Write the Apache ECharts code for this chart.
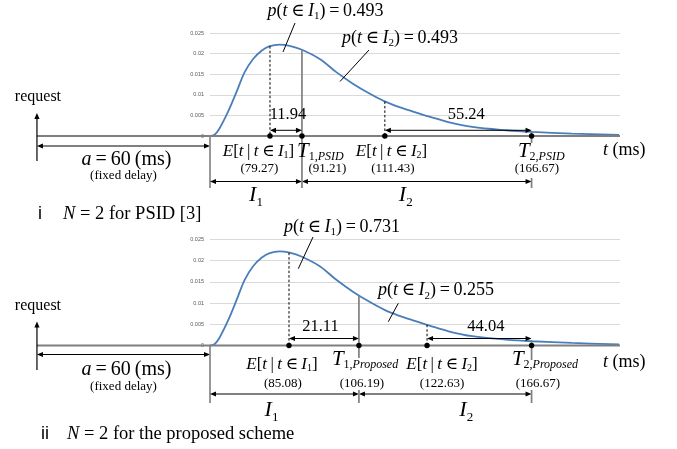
<!DOCTYPE html>
<html><head><meta charset="utf-8">
<script src="https://cdn.jsdelivr.net/npm/echarts@6/dist/echarts.min.js"></script>
<style>html,body{margin:0;padding:0;background:#fff}#c{width:677px;height:449px}</style>
</head><body><div id="c"></div>
<script>
// ---- data ----
// delay density curve: t (ms) and p(t)
const curveT = [60, 61.5, 63.2, 66.0, 68.8, 71.5, 74.3, 77.1, 79.8, 83.1, 86.4, 90.3, 96.4, 101.9, 107.4, 112.9, 117.9, 122.8, 126.2, 132.8, 139.4, 147.0, 158.2, 166.9, 180.1, 195.7];
const curveP = [0, 0.0003, 0.0019, 0.0059, 0.0107, 0.0155, 0.0187, 0.0207, 0.0218, 0.0222, 0.0219, 0.0210, 0.0187, 0.0155, 0.0127, 0.0103, 0.0084, 0.0070, 0.0062, 0.0047, 0.0033, 0.0022, 0.0014, 0.0010, 0.0006, 0.00025];
const yTicks = [0, 0.005, 0.01, 0.015, 0.02, 0.025];
const requestT = 2.6, delayT = 60, axisEndT = 196;
// markers: E[t|t in I1], T1, E[t|t in I2], T2
const topValues = ['79.27', '91.21', '111.43', '166.67'];
const topPos = [79.9, 90.5, 118.0, 166.67];          // where the (schematic) diagram draws them
const topCurveAt = [0.0218, 0.0210, 0.0084, 0.0010];
const topGaps = ['11.94', '55.24'];
const topProbs = ['0.493', '0.493'];
const topSub = 'PSID';
const botValues = ['85.08', '106.19', '122.63', '166.67'];
const botPos = [86.2, 109.4, 132.0, 166.67];
const botCurveAt = [0.0219, 0.0118, 0.0049, 0.0012];
const botGaps = ['21.11', '44.04'];
const botProbs = ['0.731', '0.255'];
const botSub = 'Proposed';
const captionNums = ['i', 'ii'];
const captions = ['N = 2 for PSID [3]', 'N = 2 for the proposed scheme'];

const SERIF = '"Liberation Serif","DejaVu Serif",serif';
const AXIS = '#7f7f7f';

function line(x1, y1, x2, y2, stroke, w, dash) {
  return {type: 'line', silent: true, shape: {x1, y1, x2, y2}, style: {stroke, lineWidth: w, lineDash: dash || null}};
}
function head(x, y, dir) {
  const L = 6, W = 2.6;
  let p;
  if (dir === 'r') p = [[x, y], [x - L, y - W], [x - L, y + W]];
  else if (dir === 'l') p = [[x, y], [x + L, y - W], [x + L, y + W]];
  else p = [[x, y], [x - W, y + L], [x + W, y + L]];
  return {type: 'polygon', silent: true, shape: {points: p}, style: {fill: '#000'}};
}
function darrow(x1, x2, y) {
  return [line(x1 + 3, y, x2 - 3, y, '#000', 1), head(x1, y, 'l'), head(x2, y, 'r')];
}
// rich text positioned by baseline
function rt(x, base, str, S, s, d, align) {
  s = s || S * 0.6; d = d || 0;
  const P = Math.max(0, 0.84 * S + d - 0.84 * s);
  const tok = (o) => Object.assign({fontFamily: SERIF, fill: '#000', verticalAlign: 'top'}, o);
  return {type: 'text', silent: true, style: {
    x, y: base - 0.84 * S, text: str, align: align || 'center', verticalAlign: 'top',
    fontFamily: SERIF, fontSize: S, fill: '#000',
    rich: {
      n: tok({fontSize: S, lineHeight: S}),
      i: tok({fontSize: S, lineHeight: S, fontStyle: 'italic'}),
      s: tok({fontSize: s, lineHeight: s, padding: [P, 0, 0, 0]}),
      si: tok({fontSize: s, lineHeight: s, fontStyle: 'italic', padding: [P, 0, 0, 0]})
    }
  }};
}

const panels = [
  {values: topValues, pos: topPos, curveAt: topCurveAt, gaps: topGaps, probs: topProbs, sub: topSub,
   capNum: captionNums[0], cap: captions[0],
   L: {reqBase: -34, reqTip: -23, reqBot: 25, aY: 10, aBase: 31, fdBase: 44, vBot: 52, iY: 45.5, iBase: 67,
       iDx: [0, -11], capBase: 84, capNumX: 40, capX: 63, labBase: 21.5, tBase: 23, valBase: 37,
       dY: -5.7, dBase: -16, gapDx: [2, 8], labDx: [-11.5, 6.7], tDx: [-5, -13.7], valDx: [-10.5, 25.5, 8, 5.3],
       tmsBase: 20, probPos: [[115.5, -119], [190, -91.7]], leaders: [[85, -113, 73, -84], [159, -86, 130, -54.5]],
       tSeg: [[['c', 52]], [['c', 7], [42, 52]]]}},
  {values: botValues, pos: botPos, curveAt: botCurveAt, gaps: botGaps, probs: botProbs, sub: botSub,
   capNum: captionNums[1], cap: captions[1],
   L: {reqBase: -34.5, reqTip: -24, reqBot: 24.5, aY: 9, aBase: 31, fdBase: 45.5, vBot: 57.5, iY: 48.5, iBase: 72.5,
       iDx: [-13, 21], capBase: 94.5, capNumX: 45, capX: 67, labBase: 24.5, tBase: 21.5, valBase: 42,
       dY: -7, dBase: -13.5, gapDx: [-3.5, 6.5], labDx: [-7, 15], tDx: [-27, -19.7], valDx: [-6, 3, 15, 6.3],
       tmsBase: 22.5, probPos: [[132, -112.5], [226, -48.8]], leaders: [[103, -108.5, 88.3, -76.8], [188.3, -42.2, 178.3, -23.8]],
       tSeg: [[['c', 12.5], [44.5, 57.5]], [['c', 14.5], [44.5, 57.5]]]}}
];

function makeRender(pn) {
  return function (params, api) {
    const L = pn.L;
    const X = t => api.coord([t, 0])[0];
    const O = api.coord([delayT, 0]);
    const X0 = O[0], Y0 = O[1];
    const V = v => api.coord([delayT, v])[1];
    const ch = [];
    const Xr = X(requestT);
    const xs = pn.pos.map(X);
    // axis line
    ch.push(line(Xr, Y0, X(axisEndT), Y0, AXIS, 2.2));
    // request arrow
    ch.push(line(Xr, Y0 + L.reqBot, Xr, Y0 + L.reqTip + 5, '#000', 1.2), head(Xr, Y0 + L.reqTip, 'u'));
    ch.push(rt(Xr + 1, Y0 + L.reqBase, '{n|request}', 16));
    // fixed delay
    ch.push(...darrow(Xr, X0, Y0 + L.aY));
    ch.push(rt((Xr + X0) / 2 + 3, Y0 + L.aBase, '{i|a}{n|\u2009=\u200960\u2009(ms)}', 20));
    ch.push(rt((Xr + X0) / 2, Y0 + L.fdBase, '{n|(fixed delay)}', 13));
    ch.push(line(X0, Y0, X0, Y0 + L.vBot, AXIS, 1.6));
    // intervals
    ch.push(...darrow(X0, xs[1], Y0 + L.iY), ...darrow(xs[1], xs[3], Y0 + L.iY));
    ch.push(rt((X0 + xs[1]) / 2 + L.iDx[0], Y0 + L.iBase, '{i|I}{s|1}', 22, 13, 4));
    ch.push(rt((xs[1] + xs[3]) / 2 + L.iDx[1], Y0 + L.iBase, '{i|I}{s|2}', 22, 13, 4));
    // T verticals
    [1, 3].forEach((k, j) => {
      L.tSeg[j].forEach(seg => {
        const ya = seg[0] === 'c' ? V(pn.curveAt[k]) : Y0 + seg[0];
        ch.push(line(xs[k], ya, xs[k], Y0 + seg[1], AXIS, 1.7));
      });
    });
    // dashed E lines
    [0, 2].forEach(k => ch.push(line(xs[k], V(pn.curveAt[k]), xs[k], Y0, '#000', 1, [2.5, 2])));
    // dots
    xs.forEach(x => ch.push({type: 'circle', silent: true, shape: {cx: x, cy: Y0, r: 2.7}, style: {fill: '#000'}}));
    // gap arrows
    [[0, 1], [2, 3]].forEach((pr, j) => {
      ch.push(...darrow(xs[pr[0]], xs[pr[1]], Y0 + L.dY));
      ch.push(rt((xs[pr[0]] + xs[pr[1]]) / 2 + L.gapDx[j], Y0 + L.dBase, '{n|' + pn.gaps[j] + '}', 16.5));
    });
    // labels below axis
    ['1', '2'].forEach((n, j) => {
      const k = j * 2;
      ch.push(rt(xs[k] + L.labDx[j], Y0 + L.labBase,
        '{i|E}{n|[}{i|t}{n|\u2009|\u2009}{i|t}{n|\u2009\u2208\u2009}{i|I}{s|' + n + '}{n|]}', 17, 10, 1.5));
      ch.push(rt(xs[k + 1] + L.tDx[j], Y0 + L.tBase, '{i|T}{s|' + n + ',}{si|' + pn.sub + '}', 21, 12, 1.5, 'left'));
    });
    pn.values.forEach((v, k) => ch.push(rt(xs[k] + L.valDx[k], Y0 + L.valBase, '{n|(' + v + ')}', 13)));
    ch.push(rt(603, Y0 + L.tmsBase, '{i|t}{n| (ms)}', 18, 0, 0, 'left'));
    // probability annotations
    ['1', '2'].forEach((n, j) => {
      const pp = L.probPos[j], ld = L.leaders[j];
      ch.push(rt(X0 + pp[0], Y0 + pp[1],
        '{i|p}{n|(}{i|t}{n|\u2009\u2208\u2009}{i|I}{s|' + n + '}{n|)\u2009=\u2009' + pn.probs[j] + '}', 18, 11, 3));
      ch.push(line(X0 + ld[0], Y0 + ld[1], X0 + ld[2], Y0 + ld[3], '#000', 1));
    });
    // caption
    ch.push({type: 'text', silent: true, style: {x: L.capNumX, y: Y0 + L.capBase - 0.84 * 18, text: pn.capNum,
      align: 'center', verticalAlign: 'top', fontFamily: '"Liberation Sans",sans-serif', fontSize: 18, fill: '#000'}});
    ch.push(rt(L.capX, Y0 + L.capBase, '{i|N}{n|' + pn.cap.slice(1) + '}', 18.5, 0, 0, 'left'));
    return {type: 'group', children: ch};
  };
}

const chart = echarts.init(document.getElementById('c'), null, {renderer: 'canvas'});
const curveData = curveT.map((t, i) => [t, curveP[i]]);
const yAxisCommon = {
  type: 'value', min: yTicks[0], max: yTicks[yTicks.length - 1], interval: yTicks[1] - yTicks[0],
  axisLine: {show: false}, axisTick: {show: false},
  axisLabel: {fontSize: 5.5, color: '#595959', margin: 6, fontFamily: '"Liberation Sans",sans-serif'},
  splitLine: {lineStyle: {color: '#d9d9d9', width: 1}}
};
chart.setOption({
  animation: false,
  backgroundColor: '#fff',
  grid: [{left: 210, right: 57, top: 33, height: 103}, {left: 210, right: 57, top: 239.5, height: 106}],
  xAxis: [0, 1].map(i => ({gridIndex: i, type: 'value', min: delayT, max: axisEndT, show: false})),
  yAxis: [0, 1].map(i => Object.assign({gridIndex: i}, yAxisCommon)),
  series: [0, 1].map(i => ({
    type: 'line', xAxisIndex: i, yAxisIndex: i, data: curveData, smooth: 0.35, showSymbol: false,
    lineStyle: {color: '#4a7ebb', width: 1.8}, z: 3
  })).concat([0, 1].map(i => ({
    type: 'custom', xAxisIndex: i, yAxisIndex: i, data: [[delayT, 0]], renderItem: makeRender(panels[i]),
    z: 4, silent: true
  })))
});
</script>
</body></html>
